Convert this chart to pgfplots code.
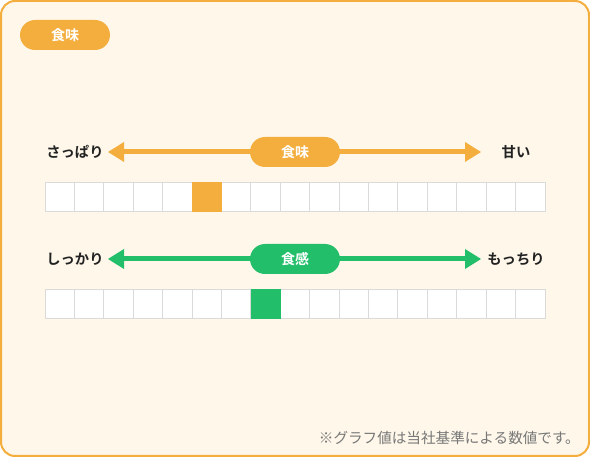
\documentclass[border=0pt]{standalone}
\usepackage{fontspec}
\usepackage{pgfplots}
\pgfplotsset{compat=1.18}
\setmainfont{Noto Sans CJK JP}
\newfontfamily\jpbold{Noto Sans CJK JP Bold}
\definecolor{tasteorange}{HTML}{F4AE3E}
\definecolor{texturegreen}{HTML}{22BE6A}
\definecolor{cream}{HTML}{FEF7EA}
\definecolor{gridgray}{HTML}{DADADA}
\definecolor{labeltext}{HTML}{222222}
\definecolor{notegray}{HTML}{777777}
\begin{document}
\begin{tikzpicture}
\begin{axis}[
  scale only axis, width=590pt, height=457pt,
  xmin=0, xmax=590, ymin=0, ymax=457, y dir=reverse,
  hide axis, clip=false,
]
% frame
\path[use as bounding box] (axis cs:0,0) rectangle (axis cs:590,457);
\draw[tasteorange, line width=2pt, fill=cream, rounded corners=14pt] (axis cs:1,1) rectangle (axis cs:589,456);
% top-left pill
\fill[tasteorange, rounded corners=15pt] (axis cs:20,20) rectangle (axis cs:110,50);
\node[text=white, font=\jpbold\fontsize{14}{14}\selectfont] at (axis cs:65,35) {食味};

% ---- row 1: taste ----
\draw[tasteorange, line width=5pt] (axis cs:120,152) -- (axis cs:470,152);
\fill[tasteorange] (axis cs:108,152) -- (axis cs:124,142) -- (axis cs:124,162) -- cycle;
\fill[tasteorange] (axis cs:481,152) -- (axis cs:465,142) -- (axis cs:465,162) -- cycle;
\fill[tasteorange, rounded corners=15pt] (axis cs:250,137) rectangle (axis cs:340,167);
\node[text=white, font=\jpbold\fontsize{14}{14}\selectfont] at (axis cs:295,152) {食味};
\node[text=labeltext, font=\jpbold\fontsize{14.3}{14.3}\selectfont] at (axis cs:75,152) {さっぱり};
\node[text=labeltext, font=\jpbold\fontsize{14.3}{14.3}\selectfont] at (axis cs:516,152) {甘い};

% cells row 1 (17 cells, centers)
\addplot[only marks, mark=square*, mark size=14.7pt,
  mark options={fill=white, draw=gridgray, line width=1pt}] coordinates {
  (59.7,197) (89.1,197) (118.5,197) (147.9,197) (177.4,197) (206.8,197)
  (236.2,197) (265.6,197) (295.0,197) (324.4,197) (353.8,197) (383.2,197)
  (412.6,197) (442.1,197) (471.5,197) (500.9,197) (530.3,197)};
% selected taste: cell 6
\addplot[only marks, mark=square*, mark size=14.7pt,
  mark options={fill=tasteorange, draw=tasteorange, line width=0.5pt}] coordinates {(206.8,197)};

% ---- row 2: texture ----
\draw[texturegreen, line width=5pt] (axis cs:120,259) -- (axis cs:470,259);
\fill[texturegreen] (axis cs:108,259) -- (axis cs:124,249) -- (axis cs:124,269) -- cycle;
\fill[texturegreen] (axis cs:481,259) -- (axis cs:465,249) -- (axis cs:465,269) -- cycle;
\fill[texturegreen, rounded corners=15pt] (axis cs:250,244) rectangle (axis cs:340,274);
\node[text=white, font=\jpbold\fontsize{14}{14}\selectfont] at (axis cs:295,259) {食感};
\node[text=labeltext, font=\jpbold\fontsize{14.3}{14.3}\selectfont] at (axis cs:75,259) {しっかり};
\node[text=labeltext, font=\jpbold\fontsize{14.3}{14.3}\selectfont] at (axis cs:516,259) {もっちり};

\addplot[only marks, mark=square*, mark size=14.7pt,
  mark options={fill=white, draw=gridgray, line width=1pt}] coordinates {
  (59.7,304) (89.1,304) (118.5,304) (147.9,304) (177.4,304) (206.8,304)
  (236.2,304) (265.6,304) (295.0,304) (324.4,304) (353.8,304) (383.2,304)
  (412.6,304) (442.1,304) (471.5,304) (500.9,304) (530.3,304)};
% selected texture: cell 8
\addplot[only marks, mark=square*, mark size=14.7pt,
  mark options={fill=texturegreen, draw=texturegreen, line width=0.5pt}] coordinates {(265.6,304)};

% footnote
\node[anchor=east, inner sep=0pt, text=notegray, font=\fontsize{14.6}{14.6}\selectfont] at (axis cs:580,438) {※グラフ値は当社基準による数値です。};
\end{axis}
\end{tikzpicture}
\end{document}
